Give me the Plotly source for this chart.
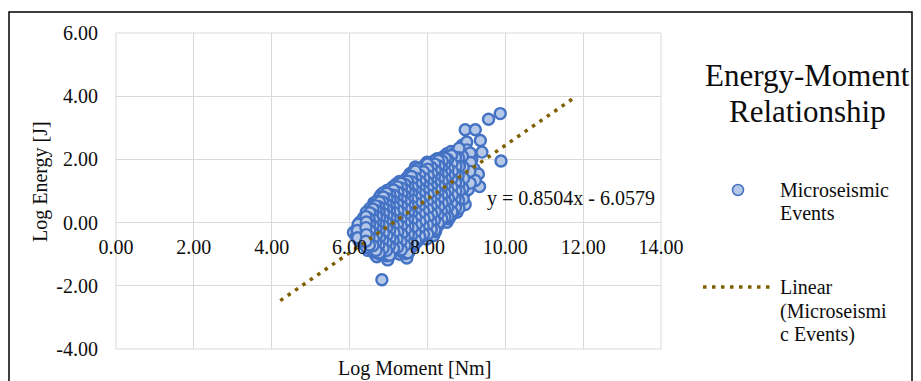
import plotly.graph_objects as go

# ---------------- data ----------------
# first block of events
moment_a = [
    6.10, 6.17, 6.19, 6.24, 6.26, 6.23, 6.27, 6.31, 6.33, 6.30, 6.34,
    6.39, 6.41, 6.38, 6.42, 6.40, 6.44, 6.47, 6.49, 6.46, 6.50, 6.48, 6.47, 6.51,
    6.56, 6.58, 6.57, 6.55, 6.59, 6.56, 6.58, 6.61, 6.66, 6.64, 6.65, 6.63, 6.67, 6.64, 6.66, 6.65, 6.62,
    6.70, 6.73, 6.71, 6.74, 6.72, 6.70, 6.75, 6.73, 6.71, 6.74,
    6.83, 6.81, 6.84, 6.82, 6.85, 6.80, 6.83, 6.86, 6.82, 6.84, 6.81,
    6.92, 6.90, 6.93, 6.91, 6.94, 6.89, 6.92, 6.95, 6.90, 6.93, 6.96,
    6.98, 7.01, 7.03, 6.99, 7.02, 7.00, 7.04, 6.98, 7.01, 7.03, 7.00,
    7.09, 7.11, 7.08, 7.12, 7.10, 7.07, 7.13, 7.09, 7.11, 7.12, 7.10,
    7.19, 7.21, 7.18, 7.22, 7.20, 7.17, 7.23, 7.19, 7.21, 7.22, 7.20,
    7.29, 7.31, 7.28, 7.32, 7.30, 7.27, 7.33, 7.29, 7.31, 7.32, 7.30, 7.28,
    7.39, 7.41, 7.38, 7.42, 7.40, 7.37, 7.43, 7.39, 7.41, 7.42, 7.40,
    7.47, 7.49, 7.46, 7.50, 7.48, 7.45, 7.51, 7.47, 7.49, 7.50, 7.48, 7.46,
    7.56, 7.58, 7.55, 7.59, 7.57, 7.54, 7.60, 7.56, 7.58, 7.59, 7.57, 7.55,
    7.66, 7.68, 7.65, 7.69, 7.67, 7.64, 7.70, 7.66, 7.68, 7.69, 7.67, 7.69,
    7.76, 7.78, 7.75, 7.79, 7.77, 7.74, 7.80, 7.76, 7.78, 7.79, 7.77, 7.81,
    7.86, 7.88, 7.85, 7.89, 7.87, 7.84, 7.90, 7.86, 7.88, 7.89, 7.87,
    7.98, 8.00, 7.97, 8.01, 7.99, 7.96, 8.02, 7.98, 8.00, 8.01, 7.99, 7.99,
    8.07, 8.09, 8.06, 8.10, 8.08, 8.05, 8.11, 8.07, 8.09, 8.10, 8.08,
    8.16, 8.18, 8.15, 8.19, 8.17, 8.14, 8.20, 8.16, 8.18, 8.19, 8.17,
    8.24, 8.26, 8.23, 8.27, 8.25, 8.22, 8.28, 8.24, 8.26, 8.27, 8.25,
    8.34, 8.36, 8.33, 8.37, 8.35, 8.32, 8.38, 8.34, 8.36, 8.37,
    8.42, 8.44, 8.41, 8.45, 8.43, 8.40, 8.46, 8.42, 8.44, 8.45,
    8.50, 8.52, 8.49, 8.53, 8.51, 8.48, 8.54, 8.50, 8.50,
    8.59, 8.61, 8.58, 8.62, 8.60, 8.57, 8.63, 8.59, 8.61,
    8.69, 8.71, 8.68, 8.72, 8.70, 8.67, 8.73, 8.69,
    8.76, 8.78, 8.75, 8.79, 8.77, 8.74, 8.80, 8.84, 8.86, 8.83, 8.87, 8.85, 8.82, 8.88, 8.89,
    8.97, 8.96, 8.98, 8.95, 8.99, 9.01, 8.97, 9.05, 9.04, 9.06, 9.01,
    9.15, 9.14, 9.23, 9.20, 9.36, 9.31, 9.34, 9.40, 9.57, 9.87, 9.89, 9.23,
]
energy_a = [
    -0.31, -0.45, -0.20, -0.57, -0.35, -0.10, 0.02, -0.62, -0.40, -0.22, 0.05,
    -0.70, -0.48, -0.28, -0.05, 0.10, 0.28, -0.88, -0.55, -0.35, -0.15, 0.05, 0.22, 0.40,
    -0.84, -0.62, -0.42, -0.20, 0.00, 0.18, 0.35, 0.52, -1.02, -0.75, -0.50, -0.30, -0.10, 0.10, 0.30, 0.45, 0.62,
    -1.08, -0.85, -0.58, -0.38, -0.15, 0.05, 0.25, 0.42, 0.58, 0.72,
    -1.81, -0.95, -0.70, -0.45, -0.22, 0.00, 0.18, 0.38, 0.55, 0.75, 0.88,
    -0.99, -0.78, -0.52, -0.30, -0.08, 0.12, 0.32, 0.50, 0.68, 0.85, 1.02,
    -1.18, -0.88, -0.60, -0.38, -0.15, 0.05, 0.25, 0.45, 0.62, 0.80, 0.98,
    -0.95, -0.70, -0.45, -0.20, 0.00, 0.22, 0.42, 0.60, 0.78, 0.95, 1.12,
    -0.92, -0.65, -0.40, -0.18, 0.05, 0.28, 0.48, 0.68, 0.88, 1.05, 1.22,
    -1.00, -0.72, -0.48, -0.25, 0.00, 0.20, 0.42, 0.62, 0.82, 1.00, 1.18, 1.30,
    -0.85, -0.60, -0.35, -0.12, 0.10, 0.32, 0.55, 0.75, 0.95, 1.12, 1.30,
    -1.12, -0.78, -0.50, -0.25, 0.00, 0.22, 0.45, 0.65, 0.85, 1.05, 1.22, 1.40,
    -0.80, -0.55, -0.30, -0.05, 0.18, 0.40, 0.62, 0.82, 1.02, 1.20, 1.38, 1.55,
    -0.70, -0.45, -0.20, 0.05, 0.28, 0.50, 0.72, 0.92, 1.12, 1.30, 1.50, 1.76,
    -0.55, -0.32, -0.08, 0.15, 0.38, 0.60, 0.80, 1.00, 1.20, 1.40, 1.60, -0.47,
    -0.48, -0.25, 0.00, 0.25, 0.48, 0.70, 0.90, 1.10, 1.30, 1.50, 1.72,
    -0.52, -0.20, 0.05, 0.30, 0.55, 0.78, 0.98, 1.18, 1.38, 1.58, 1.80, 1.91,
    -0.35, -0.10, 0.15, 0.40, 0.62, 0.85, 1.05, 1.25, 1.45, 1.65, 1.85,
    -0.41, -0.05, 0.22, 0.48, 0.72, 0.95, 1.15, 1.35, 1.55, 1.75, 1.95,
    -0.15, 0.12, 0.38, 0.62, 0.85, 1.05, 1.28, 1.48, 1.68, 1.90, 2.02,
    0.00, 0.25, 0.50, 0.75, 0.98, 1.20, 1.42, 1.62, 1.85, 2.05,
    0.05, 0.30, 0.55, 0.80, 1.05, 1.28, 1.50, 1.72, 1.95, 2.12,
    0.01, 0.35, 0.62, 0.90, 1.15, 1.38, 1.60, 1.82, 2.18,
    0.20, 0.48, 0.75, 1.00, 1.25, 1.50, 1.75, 2.00, 2.25,
    0.35, 0.62, 0.88, 1.12, 1.40, 1.65, 1.92, 2.20,
    0.33, 0.59, 0.95, 1.30, 1.55, 1.85, 2.10, 0.50, 0.80, 1.10, 1.40, 1.70, 2.00, 2.29, 2.45,
    0.57, 0.95, 1.25, 1.60, 1.90, 2.55, 2.94, 1.05, 1.45, 1.80, 2.30,
    1.55, 2.00, 2.94, 1.70, 2.60, 1.54, 1.14, 2.23, 3.27, 3.45, 1.95, 1.33,
]
# second block of events (listed high-moment first)
moment_b = [
    9.10, 9.11, 9.09, 9.10,
    8.90, 8.92, 8.93, 8.91, 8.92,
    8.81, 8.80, 8.82, 8.79, 8.81, 8.82, 8.80, 8.81,
    8.65, 8.64, 8.66, 8.63, 8.65, 8.66, 8.64, 8.65,
    8.57, 8.56, 8.55, 8.57, 8.56, 8.55, 8.57, 8.56, 8.55,
    8.48, 8.47, 8.46, 8.48, 8.45, 8.47, 8.48, 8.46, 8.47,
    8.40, 8.39, 8.38, 8.40, 8.37, 8.39, 8.40, 8.38, 8.39,
    8.29, 8.31, 8.30, 8.29, 8.31, 8.28, 8.30, 8.31, 8.29, 8.30,
    8.21, 8.20, 8.22, 8.21, 8.20, 8.22, 8.19, 8.21, 8.22, 8.20, 8.21,
    8.11, 8.13, 8.12, 8.11, 8.13, 8.10, 8.12, 8.13, 8.11, 8.12,
    8.03, 8.02, 8.04, 8.03, 8.02, 8.04, 8.01, 8.03, 8.04, 8.02, 8.03,
    7.93, 7.92, 7.94, 7.93, 7.92, 7.94, 7.91, 7.93, 7.94, 7.92, 7.93,
    7.82, 7.81, 7.83, 7.82, 7.81, 7.83, 7.80, 7.82, 7.83, 7.81, 7.82,
    7.73, 7.72, 7.71, 7.73, 7.72, 7.71, 7.73, 7.70, 7.72, 7.73, 7.71, 7.72,
    7.63, 7.62, 7.61, 7.63, 7.62, 7.61, 7.63, 7.60, 7.62, 7.63, 7.61, 7.62,
    7.53, 7.52, 7.51, 7.53, 7.52, 7.51, 7.53, 7.50, 7.52, 7.53, 7.51, 7.52,
    7.44, 7.43, 7.45, 7.44, 7.43, 7.45, 7.42, 7.44, 7.45, 7.43, 7.44,
    7.35, 7.34, 7.36, 7.35, 7.34, 7.36, 7.33, 7.35, 7.36, 7.34, 7.35,
    7.25, 7.24, 7.26, 7.25, 7.24, 7.26, 7.23, 7.25, 7.26, 7.24, 7.25,
    7.14, 7.16, 7.15, 7.14, 7.16, 7.13, 7.15, 7.16, 7.14, 7.15,
    7.05, 7.04, 7.06, 7.05, 7.04, 7.06, 7.03, 7.05, 7.06, 7.04, 7.05,
    6.95, 6.97, 6.96, 6.95, 6.97, 6.94, 6.96, 6.97, 6.95, 6.96,
    6.87, 6.89, 6.88, 6.87, 6.89, 6.86, 6.88, 6.89, 6.87, 6.88,
    6.77, 6.79, 6.78, 6.77, 6.79, 6.76, 6.78, 6.79, 6.77, 6.78,
    6.70, 6.69, 6.68, 6.70, 6.67, 6.69, 6.70, 6.68, 6.69,
    6.61, 6.60, 6.62, 6.59, 6.61, 6.62, 6.60, 6.61,
    6.52, 6.54, 6.51, 6.53, 6.54, 6.52, 6.53,
    6.43, 6.45, 6.42, 6.44, 6.45, 6.43, 6.44,
    6.36, 6.37, 6.35, 6.36,
    6.22, 6.20, 6.21,
]
energy_b = [
    2.20, 1.90, 1.62, 1.25,
    2.10, 1.75, 1.40, 1.08, 0.75,
    2.35, 2.05, 1.78, 1.48, 1.22, 1.00, 0.70, 0.45,
    2.10, 1.82, 1.58, 1.32, 1.08, 0.82, 0.55, 0.28,
    2.12, 1.92, 1.68, 1.45, 1.20, 0.95, 0.68, 0.40, 0.12,
    2.08, 1.90, 1.68, 1.45, 1.22, 0.98, 0.72, 0.45, 0.18,
    2.00, 1.78, 1.55, 1.35, 1.12, 0.88, 0.62, 0.38, 0.12,
    1.98, 1.78, 1.55, 1.35, 1.15, 0.92, 0.70, 0.45, 0.20, -0.05,
    1.98, 1.82, 1.62, 1.42, 1.22, 1.00, 0.78, 0.52, 0.28, 0.00, -0.28,
    1.80, 1.60, 1.40, 1.20, 1.00, 0.78, 0.55, 0.30, 0.05, -0.25,
    1.88, 1.72, 1.52, 1.32, 1.12, 0.92, 0.70, 0.48, 0.22, -0.02, -0.28,
    1.82, 1.65, 1.45, 1.25, 1.05, 0.85, 0.62, 0.38, 0.12, -0.12, -0.42,
    1.68, 1.55, 1.35, 1.15, 0.95, 0.75, 0.52, 0.30, 0.08, -0.18, -0.40,
    1.70, 1.55, 1.35, 1.15, 0.95, 0.75, 0.55, 0.32, 0.10, -0.15, -0.38, -0.62,
    1.62, 1.45, 1.28, 1.08, 0.88, 0.68, 0.45, 0.22, -0.02, -0.25, -0.50, -0.75,
    1.48, 1.30, 1.12, 0.92, 0.72, 0.52, 0.30, 0.08, -0.15, -0.40, -0.65, -0.95,
    1.32, 1.10, 0.90, 0.70, 0.48, 0.25, 0.02, -0.22, -0.45, -0.70, -0.98,
    1.22, 1.05, 0.88, 0.68, 0.48, 0.25, 0.05, -0.20, -0.42, -0.68, -0.92,
    1.25, 1.12, 0.92, 0.72, 0.52, 0.32, 0.10, -0.12, -0.35, -0.60, -0.85,
    1.15, 0.90, 0.72, 0.55, 0.35, 0.15, -0.08, -0.32, -0.58, -0.82,
    1.05, 0.88, 0.70, 0.52, 0.32, 0.12, -0.08, -0.30, -0.55, -0.80, -1.02,
    0.90, 0.72, 0.55, 0.38, 0.18, -0.02, -0.25, -0.48, -0.70, -1.05,
    0.95, 0.78, 0.62, 0.45, 0.25, 0.05, -0.18, -0.40, -0.62, -0.88,
    0.80, 0.65, 0.48, 0.30, 0.10, -0.08, -0.30, -0.52, -0.78, -1.00,
    0.68, 0.52, 0.35, 0.15, -0.05, -0.28, -0.48, -0.70, -0.95,
    0.55, 0.38, 0.15, -0.05, -0.25, -0.46, -0.68, -0.90,
    0.45, 0.28, 0.10, -0.10, -0.30, -0.52, -0.72,
    0.33, 0.18, 0.00, -0.20, -0.40, -0.60, -0.78,
    0.15, -0.12, -0.35, -0.55,
    -0.05, -0.25, -0.48,
]
# third block of events (dense core, listed high-moment first)
moment_c = [
    8.72, 8.73, 8.71, 8.72, 8.73, 8.71, 8.72,
    8.62, 8.63, 8.64, 8.62, 8.63, 8.64, 8.62, 8.63,
    8.52, 8.53, 8.54, 8.52, 8.53, 8.54, 8.52, 8.53,
    8.46, 8.44, 8.45, 8.46, 8.44, 8.45, 8.46, 8.44, 8.45,
    8.38, 8.36, 8.37, 8.38, 8.36, 8.37, 8.38, 8.36, 8.37,
    8.28, 8.29, 8.27, 8.28, 8.29, 8.27, 8.28, 8.29, 8.27, 8.28,
    8.19, 8.20, 8.18, 8.19, 8.20, 8.18, 8.19, 8.20, 8.18, 8.19,
    8.10, 8.11, 8.09, 8.10, 8.11, 8.09, 8.10, 8.11, 8.09, 8.10,
    8.00, 8.01, 8.02, 8.00, 8.01, 8.02, 8.00, 8.01, 8.02, 8.00, 8.01,
    7.90, 7.91, 7.89, 7.90, 7.91, 7.89, 7.90, 7.91, 7.89, 7.90,
    7.80, 7.81, 7.79, 7.80, 7.81, 7.79, 7.80, 7.81, 7.79, 7.80,
    7.69, 7.70, 7.71, 7.69, 7.70, 7.71, 7.69, 7.70, 7.71, 7.69, 7.70,
    7.59, 7.60, 7.61, 7.59, 7.60, 7.61, 7.59, 7.60, 7.61, 7.59, 7.60,
    7.49, 7.50, 7.51, 7.49, 7.50, 7.51, 7.49, 7.50, 7.51, 7.49, 7.50,
    7.42, 7.43, 7.41, 7.42, 7.43, 7.41, 7.42, 7.43, 7.41, 7.42,
    7.32, 7.33, 7.34, 7.32, 7.33, 7.34, 7.32, 7.33, 7.34, 7.32, 7.33,
    7.23, 7.24, 7.22, 7.23, 7.24, 7.22, 7.23, 7.24, 7.22, 7.23,
    7.13, 7.14, 7.12, 7.13, 7.14, 7.12, 7.13, 7.14, 7.12, 7.13,
    7.03, 7.04, 7.02, 7.03, 7.04, 7.02, 7.03, 7.04, 7.02, 7.03,
    6.95, 6.96, 6.94, 6.95, 6.96, 6.94, 6.95, 6.96, 6.94, 6.95,
    6.87, 6.85, 6.86, 6.87, 6.85, 6.86, 6.87, 6.85, 6.86,
    6.77, 6.75, 6.76, 6.77, 6.75, 6.76, 6.77, 6.75, 6.76,
    6.67, 6.68, 6.69, 6.67, 6.68, 6.69, 6.67, 6.68,
    6.60, 6.59, 6.61, 6.60, 6.59, 6.61, 6.60,
    6.52, 6.50, 6.51, 6.52, 6.50, 6.51,
    6.42, 6.43, 6.42, 6.43, 6.42,
]
energy_c = [
    2.06, 1.78, 1.52, 1.26, 1.00, 0.75, 0.48,
    2.12, 1.87, 1.62, 1.37, 1.12, 0.87, 0.61, 0.34,
    2.00, 1.71, 1.49, 1.26, 1.02, 0.76, 0.48, 0.18,
    2.03, 1.83, 1.61, 1.39, 1.16, 0.92, 0.67, 0.42, 0.17,
    1.95, 1.73, 1.52, 1.31, 1.09, 0.86, 0.62, 0.37, 0.12,
    1.96, 1.79, 1.58, 1.38, 1.16, 0.95, 0.73, 0.50, 0.25, -0.01,
    1.85, 1.65, 1.45, 1.25, 1.05, 0.83, 0.60, 0.35, 0.08, -0.23,
    1.75, 1.55, 1.35, 1.15, 0.95, 0.73, 0.51, 0.27, 0.02, -0.22,
    1.85, 1.69, 1.48, 1.28, 1.08, 0.88, 0.66, 0.42, 0.17, -0.07, -0.36,
    1.61, 1.40, 1.20, 1.00, 0.80, 0.59, 0.36, 0.12, -0.12, -0.36,
    1.50, 1.30, 1.10, 0.90, 0.70, 0.49, 0.26, 0.03, -0.20, -0.43,
    1.63, 1.40, 1.21, 1.02, 0.82, 0.61, 0.39, 0.16, -0.07, -0.32, -0.57,
    1.46, 1.29, 1.11, 0.92, 0.72, 0.51, 0.29, 0.06, -0.17, -0.42, -0.67,
    1.31, 1.13, 0.95, 0.75, 0.55, 0.33, 0.11, -0.12, -0.37, -0.64, -0.95,
    1.21, 1.03, 0.85, 0.65, 0.43, 0.21, -0.01, -0.23, -0.47, -0.72,
    1.24, 1.09, 0.91, 0.72, 0.52, 0.31, 0.10, -0.12, -0.36, -0.60, -0.86,
    1.13, 0.96, 0.78, 0.58, 0.38, 0.16, -0.06, -0.29, -0.52, -0.78,
    1.03, 0.86, 0.69, 0.51, 0.32, 0.11, -0.10, -0.32, -0.57, -0.82,
    0.89, 0.71, 0.53, 0.35, 0.15, -0.05, -0.26, -0.49, -0.74, -1.03,
    0.93, 0.76, 0.59, 0.41, 0.22, 0.02, -0.19, -0.41, -0.65, -0.88,
    0.81, 0.65, 0.46, 0.28, 0.09, -0.11, -0.33, -0.57, -0.82,
    0.65, 0.50, 0.33, 0.15, -0.05, -0.26, -0.48, -0.71, -0.96,
    0.53, 0.38, 0.20, 0.00, -0.20, -0.40, -0.62, -0.88,
    0.43, 0.26, 0.09, -0.10, -0.31, -0.52, -0.73,
    0.31, 0.13, -0.05, -0.25, -0.45, -0.71,
    0.19, 0.02, -0.16, -0.38, -0.59,
]
assert len(moment_a) == len(energy_a)
assert len(moment_b) == len(energy_b)
assert len(moment_c) == len(energy_c)
log_moment = moment_a + moment_b + moment_c
log_energy = energy_a + energy_b + energy_c

trend_slope = 0.8504
trend_intercept = -6.0579
trend_x = [4.22, 11.78]

x_ticks = [0, 2, 4, 6, 8, 10, 12, 14]
y_ticks = [-4, -2, 0, 2, 4, 6]

series_name = "Microseismic Events"
chart_title = ["Energy-Moment", "Relationship"]
x_title = "Log Moment [Nm]"
y_title = "Log Energy [J]"

# ---------------- layout helpers ----------------
W, H = 921, 381
L, R, T, B = 116, 661, 33, 349
FONT = "Liberation Serif, Times New Roman, serif"
TXT = "#0d0d0d"
GRID = "#D9D9D9"
FILL = "#B4C7E7"
EDGE = "#4472C4"
TREND = "#7F6000"


def px(x):
    return (x - L) / (R - L)


def py(y):
    return (B - y) / (B - T)


trend_y = [trend_slope * v + trend_intercept for v in trend_x]

fig = go.Figure()
fig.add_trace(go.Scatter(
    x=log_moment, y=log_energy, mode="markers", name=series_name,
    marker=dict(size=11, color=FILL, line=dict(color=EDGE, width=2.4)),
))
fig.add_trace(go.Scatter(
    x=trend_x, y=trend_y, mode="lines", name="Linear (" + series_name + ")",
    line=dict(color=TREND, width=3.5, dash="3.5px,5.5px"),
))

y_lo, y_hi = min(y_ticks), max(y_ticks)
zero_pos = (0 - y_lo) / (y_hi - y_lo)

fig.update_layout(
    width=W, height=H,
    margin=dict(l=L, r=W - R, t=T, b=H - B, pad=0),
    paper_bgcolor="white", plot_bgcolor="white",
    showlegend=False,
    font=dict(family=FONT, size=20, color=TXT),
    xaxis=dict(
        range=[min(x_ticks), max(x_ticks)], tickvals=x_ticks,
        ticktext=["%.2f" % v for v in x_ticks],
        showgrid=True, gridcolor=GRID, gridwidth=1, zeroline=False,
        showline=False, anchor="free", position=zero_pos,
        ticks="", ticklabelstandoff=10,
        tickfont=dict(family=FONT, size=20, color=TXT),
    ),
    yaxis=dict(
        range=[y_lo, y_hi], tickvals=y_ticks,
        ticktext=["%.2f" % v for v in y_ticks],
        showgrid=True, gridcolor=GRID, gridwidth=1,
        zeroline=True, zerolinecolor=GRID, zerolinewidth=1,
        showline=False, ticks="", ticklabelstandoff=17,
        tickfont=dict(family=FONT, size=20, color=TXT),
    ),
)

shapes = [
    dict(type="rect", xref="paper", yref="paper", x0=0, x1=1, y0=0, y1=1,
         line=dict(color=GRID, width=1), layer="below"),
    dict(type="rect", xref="paper", yref="paper", x0=px(9), x1=px(912), y0=py(395), y1=py(12),
         line=dict(color="black", width=1.5)),
    dict(type="circle", xref="paper", yref="paper",
         x0=px(738 - 5.5), x1=px(738 + 5.5), y0=py(190 + 5.5), y1=py(190 - 5.5),
         fillcolor=FILL, line=dict(color=EDGE, width=1.5)),
    dict(type="line", xref="paper", yref="paper",
         x0=px(703), x1=px(770), y0=py(287), y1=py(287),
         line=dict(color=TREND, width=3.5, dash="3.5px,5.5px")),
]
fig.update_layout(shapes=shapes)

ann = []


def add_text(text, x, y, size=20, xanchor="left", angle=0):
    ann.append(dict(text=text, x=px(x), y=py(y), xref="paper", yref="paper",
                    xanchor=xanchor, yanchor="middle", showarrow=False,
                    textangle=angle, font=dict(family=FONT, size=size, color=TXT)))


add_text(chart_title[0], 807, 76, size=31, xanchor="center")
add_text(chart_title[1], 807, 111, size=31, xanchor="center")
add_text("Microseismic", 778, 190)
add_text("Events", 778, 213)
add_text("Linear", 778, 287)
add_text("(Microseismi", 778, 311)
add_text("c Events)", 778, 334)
add_text("y = %.4fx - %.4f" % (trend_slope, -trend_intercept), 485, 198)
add_text(x_title, 414, 369, xanchor="center")
add_text(y_title, 40, 182, xanchor="center", angle=-90)
fig.update_layout(annotations=ann)

fig.write_html("out.html")
